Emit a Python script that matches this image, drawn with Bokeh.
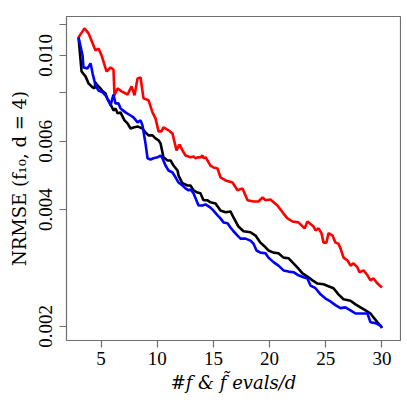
from bokeh.plotting import figure
from bokeh.models import Range1d, FixedTicker
from bokeh.embed import file_html
from bokeh.resources import INLINE

# x: evaluations / d ; y: NRMSE
red_x = [3.0, 3.53, 3.89, 4.51, 4.78, 5.05, 5.49, 5.85, 6.11, 6.20, 6.47, 6.83, 7.36, 7.72, 7.98,
         8.25, 8.52, 8.78, 9.23, 9.58, 9.85, 10.12, 10.38, 10.56, 11.01, 11.36, 11.72, 11.99, 12.25,
         12.52, 12.96, 13.23, 13.41, 13.59, 13.85, 14.03, 14.12, 14.30, 14.48, 14.57, 14.74, 15.01,
         15.37, 15.63, 16.08, 16.70, 17.15, 17.59, 18.04, 18.57, 19.01, 19.37, 19.64, 20.08, 20.70,
         21.24, 21.59, 22.04, 22.57, 23.11, 23.37, 23.91, 24.09, 24.35, 24.62, 24.80, 25.06, 25.24,
         25.60, 25.86, 26.13, 26.31, 26.58, 26.93, 27.20, 27.47, 27.82, 28.00, 28.36, 28.71, 28.98,
         29.25, 29.60, 30.0]
red_y = [0.01113, 0.01174, 0.01140, 0.01030, 0.01042, 0.01000, 0.00909, 0.00931, 0.00920, 0.00789,
         0.00822, 0.00808, 0.00793, 0.00832, 0.00789, 0.00872, 0.00877, 0.00775, 0.00766, 0.00713,
         0.00688, 0.00637, 0.00637, 0.00652, 0.00641, 0.00629, 0.00569, 0.00589, 0.00569, 0.00552,
         0.00546, 0.00549, 0.00543, 0.00546, 0.00546, 0.00552, 0.00543, 0.00546, 0.00536, 0.00530,
         0.00520, 0.00514, 0.00511, 0.00485, 0.00476, 0.00470, 0.00449, 0.00454, 0.00423, 0.00420,
         0.00420, 0.00430, 0.00423, 0.00425, 0.00410, 0.00391, 0.00380, 0.00373, 0.00371, 0.00358,
         0.00373, 0.00362, 0.00354, 0.00358, 0.00348, 0.00329, 0.00329, 0.00348, 0.00343, 0.00329,
         0.00327, 0.00318, 0.00301, 0.00296, 0.00287, 0.00291, 0.00284, 0.00276, 0.00279, 0.00271,
         0.00263, 0.00266, 0.00258, 0.00252]

black_x = [3.0, 3.27, 3.62, 3.89, 4.25, 4.42, 4.51, 4.69, 4.96, 5.14, 5.40, 5.58, 5.85, 6.11, 6.29,
           6.47, 6.74, 6.91, 7.09, 7.36, 7.63, 7.89, 8.25, 8.69, 8.96, 9.23, 9.58, 9.85, 10.12, 10.30,
           10.47, 10.56, 10.92, 11.19, 11.45, 11.81, 11.90, 12.25, 12.70, 12.96, 13.23, 13.59, 13.85,
           14.12, 14.48, 14.74, 15.19, 15.63, 16.08, 16.52, 16.79, 17.23, 17.68, 18.30, 18.75, 19.19,
           19.64, 19.90, 20.35, 20.79, 21.24, 21.68, 22.13, 22.57, 22.93, 23.37, 23.82, 24.26, 24.80,
           25.24, 25.69, 26.13, 26.58, 27.20, 27.65, 28.09, 28.54, 28.98, 29.25, 29.60, 30.0]
black_y = [0.01113, 0.00909, 0.00883, 0.00847, 0.00827, 0.00822, 0.00852, 0.00837, 0.00822, 0.00808,
           0.00798, 0.00770, 0.00748, 0.00721, 0.00730, 0.00709, 0.00713, 0.00696, 0.00680, 0.00668,
           0.00648, 0.00652, 0.00656, 0.00648, 0.00633, 0.00622, 0.00622, 0.00611, 0.00604, 0.00593,
           0.00562, 0.00546, 0.00536, 0.00536, 0.00520, 0.00505, 0.00490, 0.00468, 0.00462, 0.00462,
           0.00449, 0.00443, 0.00441, 0.00423, 0.00423, 0.00418, 0.00415, 0.00398, 0.00394, 0.00396,
           0.00382, 0.00362, 0.00352, 0.00350, 0.00343, 0.00329, 0.00320, 0.00314, 0.00310, 0.00309,
           0.00301, 0.00300, 0.00291, 0.00282, 0.00274, 0.00269, 0.00263, 0.00258, 0.00257, 0.00254,
           0.00251, 0.00242, 0.00235, 0.00233, 0.00228, 0.00224, 0.00220, 0.00216, 0.00211, 0.00205,
           0.00199]

blue_x = [3.0, 3.36, 3.44, 3.80, 4.07, 4.25, 4.51, 4.78, 5.14, 5.40, 5.67, 5.85, 6.11, 6.29, 6.56,
          6.74, 7.18, 7.63, 7.89, 8.25, 8.52, 8.69, 8.96, 9.14, 9.41, 9.67, 10.03, 10.30, 10.47, 10.74,
          11.01, 11.36, 11.63, 11.90, 12.25, 12.52, 12.79, 12.96, 13.23, 13.68, 14.03, 14.30, 14.74,
          15.01, 15.37, 15.63, 15.90, 16.26, 16.52, 16.79, 17.15, 17.41, 17.86, 18.30, 18.57, 18.84,
          19.19, 19.64, 19.90, 20.35, 20.79, 21.24, 21.68, 22.13, 22.57, 23.02, 23.37, 23.64, 24.09,
          24.53, 24.98, 25.42, 25.86, 26.31, 26.75, 27.20, 27.65, 28.09, 28.71, 28.98, 29.42, 29.87,
          30.0]
blue_y = [0.01113, 0.01000, 0.00931, 0.00926, 0.00954, 0.00899, 0.00837, 0.00812, 0.00803, 0.00789,
          0.00766, 0.00743, 0.00793, 0.00752, 0.00752, 0.00730, 0.00713, 0.00700, 0.00692, 0.00672,
          0.00680, 0.00660, 0.00593, 0.00543, 0.00539, 0.00543, 0.00546, 0.00552, 0.00543, 0.00520,
          0.00505, 0.00499, 0.00485, 0.00470, 0.00462, 0.00454, 0.00449, 0.00451, 0.00441, 0.00410,
          0.00410, 0.00413, 0.00405, 0.00398, 0.00387, 0.00380, 0.00371, 0.00369, 0.00360, 0.00352,
          0.00343, 0.00337, 0.00337, 0.00333, 0.00327, 0.00314, 0.00310, 0.00309, 0.00301, 0.00293,
          0.00287, 0.00279, 0.00277, 0.00276, 0.00271, 0.00268, 0.00266, 0.00255, 0.00251, 0.00242,
          0.00236, 0.00232, 0.00227, 0.00223, 0.00224, 0.00220, 0.00216, 0.00216, 0.00216, 0.00205,
          0.00204, 0.00201, 0.00198]

x_ticks = [5, 10, 15, 20, 25, 30]
y_ticks = [0.002, 0.004, 0.006, 0.008, 0.010, 0.012]
y_tick_labels = {0.002: "0.002", 0.004: "0.004", 0.006: "0.006", 0.008: "", 0.010: "0.010", 0.012: ""}

FONT = "Liberation Serif"
LABEL_FONT = "DejaVu Serif"
GREY = "#6e6e6e"

p = figure(width=401, height=399, y_axis_type="log",
           x_range=Range1d(1.93, 31.65), y_range=Range1d(0.00184, 0.0126),
           output_backend="svg", toolbar_location=None,
           min_border_left=66, min_border_top=16, min_border_right=1, min_border_bottom=59)
p.background_fill_color = "white"
p.border_fill_color = "white"
p.outline_line_color = GREY
p.outline_line_width = 1.2
p.grid.visible = False

p.line(red_x, red_y, line_color="#ff0000", line_width=2.6)
p.line(black_x, black_y, line_color="#000000", line_width=2.6)
p.line(blue_x, blue_y, line_color="#0000ff", line_width=2.6)

for ax in (p.xaxis[0], p.yaxis[0]):
    ax.axis_line_color = None
    ax.major_tick_line_color = GREY
    ax.major_tick_line_width = 1.2
    ax.major_tick_out = 7
    ax.major_tick_in = 0
    ax.minor_tick_line_color = None
    ax.major_label_text_font = FONT
    ax.major_label_text_font_size = "19px"
    ax.major_label_text_color = "black"
    ax.axis_label_text_font = LABEL_FONT
    ax.axis_label_text_font_size = "18px"
    ax.axis_label_text_color = "black"

p.xaxis.ticker = FixedTicker(ticks=x_ticks)
p.xaxis.major_label_standoff = 4
p.xaxis.axis_label = "#f & f\u0303 evals/d"
p.xaxis.axis_label_text_font_style = "italic"
p.xaxis.axis_label_standoff = 4

p.yaxis.ticker = FixedTicker(ticks=y_ticks)
p.yaxis.major_label_overrides = y_tick_labels
p.yaxis.major_label_orientation = "vertical"
p.yaxis.major_label_standoff = 7
p.yaxis.axis_label = "NRMSE (f\u2081\u2080, d = 4)"
p.yaxis.axis_label_text_font_style = "normal"
p.yaxis.axis_label_standoff = 7

open("out.html", "w").write(file_html(p, INLINE))
